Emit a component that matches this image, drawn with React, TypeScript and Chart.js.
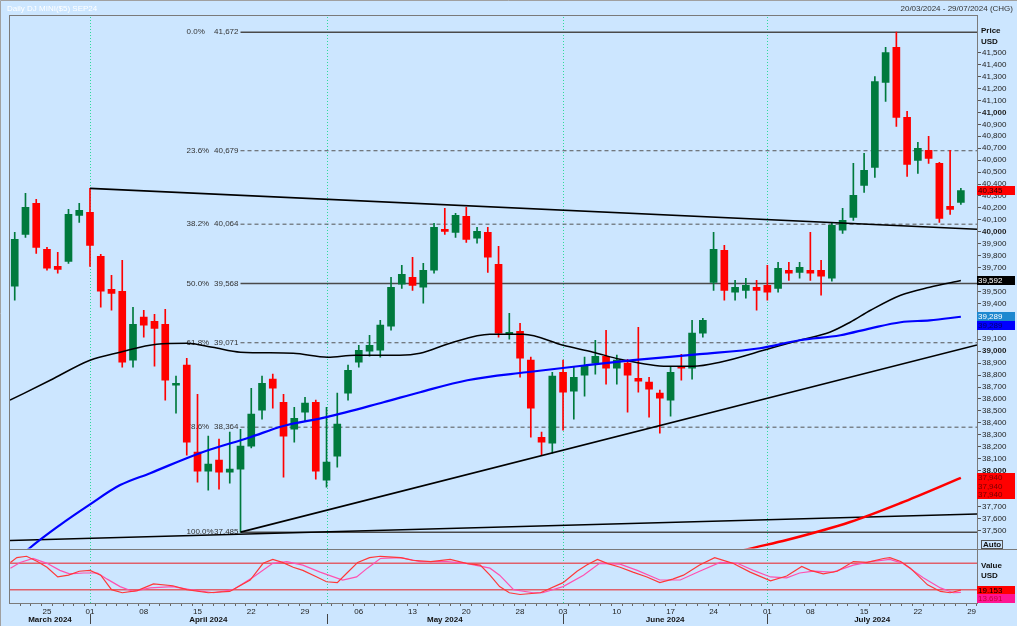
import React, { useEffect, useRef } from "react";
import { Chart, registerables } from "chart.js";

Chart.register(...registerables);

const FONT = '"Liberation Sans", Arial, sans-serif';
const BG = "#CCE6FF";
const GREEN = "#007A3D";
const RED = "#FF0000";

const TITLE = "Daily DJ MINI($5) SEP24";
const DATE_RANGE = "20/03/2024 - 29/07/2024 (CHG)";

// Trading-day candles, index 0 = 20/03/2024 ... index 88 = 26/07/2024
const OPEN = [
  39544, 39979, 40238, 39854, 39711, 39753, 40138, 40163, 39795, 39519,
  39502, 38925, 39285, 39251, 39226, 38715, 38883, 38155, 37996, 38088,
  37987, 38013, 38205, 38506, 38766, 38573, 38347, 38490, 38573, 37920,
  38121, 38649, 38908, 39000, 39008, 39209, 39561, 39619, 39536, 39678,
  40021, 39996, 40130, 39946, 39996, 39728, 39142, 39167, 38925, 38280,
  38230, 38824, 38665, 38799, 38900, 38958, 38858, 38900, 38774, 38741,
  38649, 38590, 38866, 38858, 39151, 39577, 39845, 39494, 39510, 39536,
  39552, 39527, 39678, 39661, 39678, 39678, 39611, 40013, 40121, 40389,
  40540, 41251, 41544, 40958, 40598, 40682, 40573, 40213, 40247,
];
const HIGH = [
  39996, 40322, 40272, 39870, 39828, 40188, 40238, 40364, 39812, 39636,
  39761, 39368, 39343, 39310, 39351, 38791, 38941, 38640, 38289, 38264,
  38322, 38347, 38690, 38791, 38808, 38640, 38531, 38615, 38590, 38531,
  38649, 38883, 39050, 39134, 39259, 39619, 39720, 39787, 39736, 40071,
  40197, 40155, 40205, 40038, 40038, 39879, 39318, 39234, 38950, 38322,
  38824, 38925, 38874, 38950, 39092, 39176, 38967, 38933, 39201, 38782,
  38674, 38866, 38975, 39259, 39276, 39996, 39887, 39594, 39611, 39594,
  39720, 39745, 39745, 39745, 39996, 39761, 40079, 40197, 40573, 40657,
  41301, 41544, 41672, 41008, 40749, 40799, 40582, 40682, 40364,
];
const LOW = [
  39427, 39954, 39820, 39678, 39653, 39736, 40079, 39711, 39368, 39343,
  38866, 38866, 39117, 38874, 38590, 38481, 38130, 37904, 37837, 37845,
  37896, 37485, 38190, 38431, 38523, 37946, 38239, 38414, 37929, 37862,
  38029, 38590, 38866, 38958, 38950, 39176, 39527, 39510, 39402, 39653,
  39979, 39954, 39912, 39904, 39661, 39117, 39100, 38782, 38280, 38130,
  38146, 38339, 38431, 38623, 38808, 38724, 38724, 38490, 38657, 38448,
  38314, 38456, 38757, 38766, 39117, 39510, 39427, 39427, 39444, 39343,
  39427, 39494, 39594, 39611, 39594, 39469, 39586, 39987, 40096, 40330,
  40456, 41092, 40883, 40464, 40489, 40573, 40079, 40146, 40230,
];
const CLOSE = [
  39937, 40205, 39870, 39695, 39686, 40146, 40180, 39887, 39502, 39485,
  38908, 39226, 39218, 39192, 38757, 38732, 38239, 37996, 38054, 37987,
  38013, 38205, 38473, 38732, 38690, 38289, 38439, 38565, 37996, 38071,
  38389, 38841, 39008, 39050, 39218, 39536, 39644, 39552, 39678, 40038,
  40004, 40138, 39937, 40004, 39787, 39151, 39159, 38941, 38523, 38239,
  38791, 38657, 38782, 38874, 38958, 38858, 38925, 38799, 38749, 38682,
  38607, 38824, 38858, 39151, 39259, 39854, 39510, 39536, 39552, 39510,
  39494, 39695, 39653, 39703, 39653, 39628, 40054, 40096, 40305, 40515,
  41259, 41502, 40958, 40565, 40699, 40615, 40113, 40188, 40345,
];

// Moving averages (sampled along the curve: trading-day index, price)
const MA_BLACK_X = [-0.44, 3.3, 7, 9.8, 13.2, 16, 18.4, 21, 25.9, 29.1, 31.7, 35.8, 37.7, 40.5, 44.2, 47.3, 51, 53.8, 56.3, 60.7, 63.1, 65.6, 70.3, 73, 75.8, 77.7, 79.6, 82.4, 85.1, 88];
const MA_BLACK_Y = [38590, 38757, 38925, 38992, 39059, 39067, 39033, 38992, 38983, 38950, 38967, 38967, 38983, 39067, 39142, 39142, 39050, 38992, 38933, 38874, 38874, 38908, 39025, 39092, 39159, 39243, 39343, 39469, 39536, 39592];
const MA_BLUE_X = [-0.44, 1.4, 4.2, 6.9, 9.8, 12.6, 17.2, 21.9, 24.9, 29, 34.3, 37.7, 42.1, 47.6, 53.2, 57.5, 63.7, 69.3, 73, 76.8, 79.6, 82.4, 85.1, 88];
const MA_BLUE_Y = [37200, 37352, 37544, 37711, 37879, 37979, 38146, 38280, 38372, 38448, 38573, 38657, 38757, 38824, 38883, 38925, 38975, 39025, 39092, 39134, 39192, 39243, 39259, 39289];
const MA_RED_X = [66, 68.2, 71.8, 77.7, 82.4, 88];
const MA_RED_Y = [37290, 37343, 37419, 37570, 37729, 37940];

// Trend lines (index, price) pairs
const TREND_TOP = [[7, 40364], [89.5, 40021]];
const TREND_UP = [[21, 37485], [89.5, 39052]];
const TREND_FLAT = [[-0.44, 37415], [89.5, 37637]];

// Fibonacci retracement
const FIB_START_IDX = 21;
const FIB_PCT = ["0.0%", "23.6%", "38.2%", "50.0%", "61.8%", "78.6%", "100.0%"];
const FIB_VAL = [41672, 40679, 40064, 39568, 39071, 38364, 37485];
const FIB_DASHED = [false, true, true, false, true, true, false];

// Stochastic (index, value)
const STOCH_K_X = [-0.4, 0.2, 1.1, 2.1, 3, 4, 5, 6, 7, 8, 9, 10, 11.4, 12.9, 14.7, 16, 18, 20, 21.9, 23.1, 24, 24.9, 25.9, 26.8, 28.1, 29, 30, 30.9, 31.9, 33, 34, 35.9, 37, 38.7, 40.5, 42, 43.3, 44.2, 45.1, 46, 47, 48.9, 51, 52.3, 53.2, 54.2, 55.1, 56.3, 57.5, 58.8, 60, 61.2, 62.2, 63.7, 65.1, 66.8, 68.4, 70.3, 71.8, 73.2, 74, 75.2, 76.5, 78, 79.3, 80.8, 81.4, 82.4, 83.3, 84.9, 86.1, 87, 88];
const STOCH_K_Y = [82, 93, 96, 84, 71, 49, 53, 62, 64, 53, 20, 13, 18, 33, 29, 20, 13, 16, 42, 80, 89, 82, 71, 64, 49, 38, 36, 58, 82, 93, 96, 93, 87, 84, 89, 80, 76, 53, 27, 13, 9, 13, 36, 62, 76, 89, 80, 71, 60, 49, 36, 44, 53, 76, 93, 80, 60, 40, 51, 73, 64, 56, 62, 84, 82, 91, 93, 84, 69, 31, 16, 13, 19.153];
const STOCH_D_X = [-0.4, 0.5, 1.7, 3, 4.2, 5.1, 6.4, 7.7, 8.6, 9.8, 11, 12.6, 14.7, 16.3, 18.5, 20.3, 22.2, 24, 25.3, 26.8, 28.4, 30.5, 31.8, 32.8, 34, 35.9, 37.7, 40.2, 42, 44.2, 45.1, 46.4, 48.2, 49.1, 51, 52.9, 54.4, 56.3, 57.9, 60, 61.9, 63.7, 65.6, 67.2, 68.7, 70.3, 71.8, 73, 74.3, 76.1, 78, 79.6, 81.4, 82.6, 84.5, 86.1, 87.3, 88];
const STOCH_D_Y = [69, 82, 91, 80, 64, 56, 58, 58, 44, 27, 16, 24, 27, 20, 13, 20, 49, 80, 84, 76, 60, 42, 49, 69, 91, 93, 84, 84, 80, 69, 53, 20, 13, 13, 27, 53, 80, 78, 64, 42, 42, 62, 82, 80, 64, 49, 47, 58, 62, 60, 76, 84, 89, 80, 47, 24, 13, 13.691];
const STOCH_LEVELS = [80, 20];

// Axis labels
const WEEK_TICK_IDX = [3, 7, 12, 17, 22, 27, 32, 37, 42, 47, 51, 56, 61, 65, 70, 74, 79, 84, 89];
const WEEK_TICK_TEXT = ["25", "01", "08", "15", "22", "29", "06", "13", "20", "28", "03", "10", "17", "24", "01", "08", "15", "22", "29"];
const MONTH_START_IDX = [7, 29, 51, 70];
const MONTH_NAMES = ["March 2024", "April 2024", "May 2024", "June 2024", "July 2024"];
const PRICE_TICK_FIRST = 37500;
const PRICE_TICK_LAST = 41500;
const PRICE_TICK_STEP = 100;

const X_MIN = -0.44;
const X_MAX = 89.5;

const fmt = (v: number) => Math.round(v).toLocaleString("en-US");
const pts = (xs: number[], ys: number[]) => xs.map((x, i) => ({ x, y: ys[i] }));
const seg = (p: number[][]) => p.map(([x, y]) => ({ x, y }));

const decor = {
  id: "decor",
  beforeDraw(chart: any) {
    const c = chart.ctx;
    c.save();
    c.fillStyle = BG;
    c.fillRect(0, 0, chart.width, chart.height);
    c.restore();
  },
  beforeDatasetsDraw(chart: any) {
    const c = chart.ctx;
    const xs = chart.scales.x;
    const ys = chart.scales.y;
    const { top, bottom } = chart.chartArea;
    c.save();
    c.strokeStyle = "#2EDB9C";
    c.lineWidth = 1;
    c.setLineDash([1, 2]);
    MONTH_START_IDX.forEach((i) => {
      const px = Math.round(xs.getPixelForValue(i)) + 0.5;
      c.beginPath();
      c.moveTo(px, top);
      c.lineTo(px, bottom);
      c.stroke();
    });
    c.setLineDash([]);
    c.font = `8px ${FONT}`;
    c.fillStyle = "#333";
    c.textBaseline = "middle";
    const x0 = xs.getPixelForValue(FIB_START_IDX);
    FIB_PCT.forEach((p, k) => {
      const py = ys.getPixelForValue(FIB_VAL[k]);
      c.textAlign = "left";
      c.fillText(p, x0 - 54, py);
      c.textAlign = "right";
      c.fillText(fmt(FIB_VAL[k]), x0 - 2, py);
    });
    c.restore();
  },
  afterDraw(chart: any) {
    const c = chart.ctx;
    const xs = chart.scales.x;
    const ys = chart.scales.y;
    const y2 = chart.scales.y2;
    const { left, right, bottom } = chart.chartArea;
    c.save();
    // frame
    c.strokeStyle = "#7a7a7a";
    c.lineWidth = 1;
    c.strokeRect(9.5, 15.5, right - 9, bottom - 15);
    const sep = Math.round(ys.bottom) + 0.5;
    c.beginPath();
    c.moveTo(9, sep);
    c.lineTo(chart.width, sep);
    c.stroke();
    c.strokeStyle = "#a0a0a0";
    c.beginPath();
    c.moveTo(0.5, chart.height);
    c.lineTo(0.5, 0.5);
    c.lineTo(chart.width, 0.5);
    c.stroke();
    // title + range
    c.font = `8px ${FONT}`;
    c.textBaseline = "middle";
    c.textAlign = "left";
    c.fillStyle = "#ffffff";
    c.fillText(TITLE, 7, 9);
    c.textAlign = "right";
    c.fillStyle = "#333";
    c.fillText(DATE_RANGE, 1013, 9);
    // headers
    c.font = `bold 8px ${FONT}`;
    c.fillStyle = "#111";
    c.textAlign = "left";
    c.fillText("Price", 981, 31);
    c.fillText("USD", 981, 41.5);
    c.fillText("Value", 981, 566);
    c.fillText("USD", 981, 576);
    // Auto button
    c.strokeStyle = "#555";
    c.strokeRect(981.5, 540.5, 21, 8);
    c.fillText("Auto", 983, 545);
    // value boxes
    const box = (py: number, text: string, bg: string, fg: string) => {
      c.fillStyle = bg;
      c.fillRect(977, Math.round(py - 4.5), 38, 9);
      c.fillStyle = fg;
      c.font = `8px ${FONT}`;
      c.textAlign = "left";
      c.textBaseline = "middle";
      c.fillText(text, 978, Math.round(py - 4.5) + 5);
    };
    const lastClose = CLOSE[CLOSE.length - 1];
    box(ys.getPixelForValue(lastClose), fmt(lastClose), RED, "#300000");
    const lb = MA_BLACK_Y[MA_BLACK_Y.length - 1];
    box(ys.getPixelForValue(lb), fmt(lb), "#000000", "#ffffff");
    const lbl = MA_BLUE_Y[MA_BLUE_Y.length - 1];
    const pb = ys.getPixelForValue(lbl);
    box(pb, fmt(lbl), "#1E88D0", "#ffffff");
    box(pb + 9, fmt(lbl), "#0000FF", "#000070");
    const lr = MA_RED_Y[MA_RED_Y.length - 1];
    const pr = ys.getPixelForValue(lr);
    box(pr, fmt(lr), RED, "#7a0000");
    box(pr + 8.5, fmt(lr), RED, "#7a0000");
    box(pr + 17, fmt(lr), RED, "#7a0000");
    const kLast = STOCH_K_Y[STOCH_K_Y.length - 1];
    const dLast = STOCH_D_Y[STOCH_D_Y.length - 1];
    const pk = y2.getPixelForValue(kLast);
    box(pk, kLast.toFixed(3), RED, "#000000");
    const pd = Math.max(y2.getPixelForValue(dLast), pk + 8);
    box(pd, dLast.toFixed(3), "#FF1493", "#C80030");
    // month labels
    c.font = `bold 8px ${FONT}`;
    c.fillStyle = "#111";
    c.textAlign = "center";
    c.textBaseline = "middle";
    const bounds = [left, ...MONTH_START_IDX.map((i) => xs.getPixelForValue(i)), right];
    MONTH_NAMES.forEach((m, k) => {
      c.fillText(m, (bounds[k] + bounds[k + 1]) / 2, 619.5);
    });
    c.strokeStyle = "#444";
    MONTH_START_IDX.forEach((i) => {
      const px = Math.round(xs.getPixelForValue(i)) + 0.5;
      c.beginPath();
      c.moveTo(px, 614);
      c.lineTo(px, 624);
      c.stroke();
    });
    c.restore();
  },
};

export default function App() {
  const ref = useRef<HTMLCanvasElement>(null);
  useEffect(() => {
    const canvas = ref.current!;
    const bodyColors = CLOSE.map((cl, i) => (cl >= OPEN[i] ? GREEN : RED));
    const datasets: any[] = [];
    FIB_VAL.forEach((v, k) => {
      datasets.push({
        type: "line",
        data: [{ x: FIB_START_IDX, y: v }, { x: X_MAX, y: v }],
        borderColor: FIB_DASHED[k] ? "#555555" : "#4a4a4a",
        borderWidth: FIB_DASHED[k] ? 1 : 1.5,
        borderDash: FIB_DASHED[k] ? [4, 3] : [],
        pointRadius: 0,
        yAxisID: "y",
        order: 40,
      });
    });
    datasets.push({
      type: "bar",
      data: OPEN.map((_, i) => ({ x: i, y: [LOW[i], HIGH[i]] })),
      backgroundColor: bodyColors,
      barThickness: 1,
      grouped: false,
      minBarLength: 1,
      yAxisID: "y",
      order: 31,
    });
    datasets.push({
      type: "bar",
      data: OPEN.map((o, i) => ({ x: i, y: [o, CLOSE[i]] })),
      backgroundColor: bodyColors,
      barThickness: 7,
      grouped: false,
      minBarLength: 1,
      yAxisID: "y",
      order: 30,
    });
    [TREND_TOP, TREND_UP, TREND_FLAT].forEach((t) => {
      datasets.push({
        type: "line",
        data: seg(t),
        borderColor: "#000000",
        borderWidth: 1.6,
        pointRadius: 0,
        yAxisID: "y",
        order: 20,
      });
    });
    datasets.push({
      type: "line",
      data: pts(MA_BLACK_X, MA_BLACK_Y),
      borderColor: "#000000",
      borderWidth: 1.5,
      pointRadius: 0,
      cubicInterpolationMode: "monotone",
      yAxisID: "y",
      order: 15,
    });
    datasets.push({
      type: "line",
      data: pts(MA_BLUE_X, MA_BLUE_Y),
      borderColor: "#0000FF",
      borderWidth: 2.2,
      pointRadius: 0,
      cubicInterpolationMode: "monotone",
      yAxisID: "y",
      order: 14,
    });
    datasets.push({
      type: "line",
      data: pts(MA_RED_X, MA_RED_Y),
      borderColor: "#FF0000",
      borderWidth: 2.5,
      pointRadius: 0,
      cubicInterpolationMode: "monotone",
      yAxisID: "y",
      order: 13,
    });
    STOCH_LEVELS.forEach((lv) => {
      datasets.push({
        type: "line",
        data: [{ x: X_MIN, y: lv }, { x: X_MAX, y: lv }],
        borderColor: "#E0606A",
        borderWidth: 1.5,
        pointRadius: 0,
        yAxisID: "y2",
        order: 12,
      });
    });
    datasets.push({
      type: "line",
      data: pts(STOCH_D_X, STOCH_D_Y),
      borderColor: "#FF50B0",
      borderWidth: 1.2,
      pointRadius: 0,
      yAxisID: "y2",
      order: 11,
    });
    datasets.push({
      type: "line",
      data: pts(STOCH_K_X, STOCH_K_Y),
      borderColor: "#FF3838",
      borderWidth: 1.2,
      pointRadius: 0,
      yAxisID: "y2",
      order: 10,
    });

    const priceTicks: number[] = [];
    for (let v = PRICE_TICK_FIRST; v <= PRICE_TICK_LAST; v += PRICE_TICK_STEP) priceTicks.push(v);

    const chart = new Chart(canvas, {
      type: "line",
      data: { datasets },
      options: {
        animation: false,
        responsive: false,
        maintainAspectRatio: false,
        events: [],
        layout: { padding: { left: 10, top: 17, right: 0, bottom: 0 } },
        plugins: { legend: { display: false }, tooltip: { enabled: false } },
        scales: {
          x: {
            type: "linear",
            min: X_MIN,
            max: X_MAX,
            offset: false,
            afterFit: (s: any) => {
              s.height = 23;
            },
            afterBuildTicks: (s: any) => {
              s.ticks = Array.from({ length: 90 }, (_, i) => ({ value: i }));
            },
            ticks: {
              autoSkip: false,
              maxRotation: 0,
              minRotation: 0,
              padding: 1,
              color: "#222",
              font: { family: FONT, size: 8 },
              callback: (v: any) => {
                const k = WEEK_TICK_IDX.indexOf(Number(v));
                return k >= 0 ? WEEK_TICK_TEXT[k] : "";
              },
            },
            grid: { drawOnChartArea: false, drawTicks: true, tickLength: 3, color: "#666" },
            border: { display: false },
          },
          y: {
            type: "linear",
            position: "right",
            stack: "panes",
            stackWeight: 531.5,
            min: 37348,
            max: 41799,
            afterFit: (s: any) => {
              s.width = 40;
            },
            afterBuildTicks: (s: any) => {
              s.ticks = priceTicks.map((v) => ({ value: v }));
            },
            ticks: {
              autoSkip: false,
              padding: 1,
              color: "#222",
              font: (ctx: any) => ({
                family: FONT,
                size: 8,
                weight: ctx.tick && ctx.tick.value % 1000 === 0 ? "bold" : "normal",
              }),
              callback: (v: any) => fmt(Number(v)),
            },
            grid: { drawOnChartArea: false, drawTicks: true, tickLength: 4, color: "#555" },
            border: { display: false },
          },
          y2: {
            type: "linear",
            position: "right",
            stack: "panes",
            stackWeight: 54.5,
            min: -10.3,
            max: 113.7,
            afterFit: (s: any) => {
              s.width = 40;
            },
            ticks: { display: false },
            grid: { display: false },
            border: { display: false },
          },
        },
      },
      plugins: [decor],
    } as any);
    return () => chart.destroy();
  }, []);
  return (
    <div style={{ position: "fixed", left: 0, top: 0, width: 1017, height: 626 }}>
      <canvas ref={ref} width={1017} height={626} style={{ display: "block", width: 1017, height: 626 }} />
    </div>
  );
}
